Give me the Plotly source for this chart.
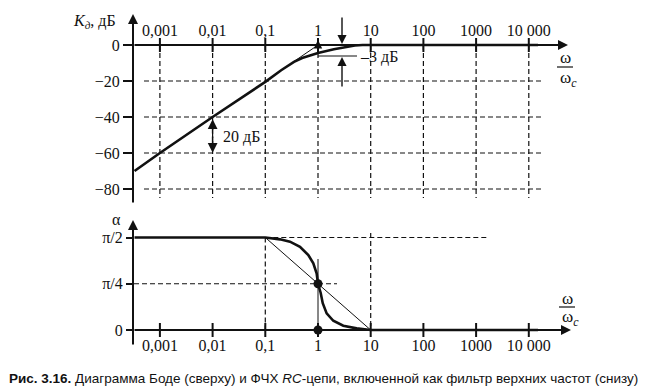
import plotly.graph_objects as go

# ---------------- data ----------------
decades = [0.001, 0.01, 0.1, 1, 10, 100, 1000, 10000]
decade_labels = ["0,001", "0,01", "0,1", "1", "10", "100", "1000", "10 000"]

mag_omega = [0.00033, 0.001, 0.01, 0.1, 0.2, 0.35, 0.5, 0.7, 1, 2, 3.2, 5, 7, 10, 100, 1000, 10000, 15000]
mag_db = [-70, -60, -40, -20.5, -14, -9.4, -7.2, -5.8, -4.5, -2.4, -1.3, -0.3, 0, 0, 0, 0, 0, 0]

asym_omega = [0.34, 1]
asym_db = [-9.4, 0]

mag_ticks = [0, -20, -40, -60, -80]
mag_tick_labels = ["0", "\u221220", "\u221240", "\u221260", "\u221280"]
mag_grid = [-20, -40, -60, -80]

# phase in units of pi/2
phase_omega = [0.00033, 0.1, 0.19, 0.294, 0.455, 0.655, 0.815, 0.944, 1, 1.125, 1.23, 1.46, 1.95, 3.02, 5.42, 10, 15000]
phase_frac = [1, 1, 0.98, 0.955, 0.90, 0.81, 0.72, 0.61, 0.5, 0.40, 0.29, 0.18, 0.10, 0.046, 0.018, 0, 0]
phase_asym_omega = [0.1, 10]
phase_asym_frac = [1, 0]
phase_ticks = [1, 0.5, 0]
phase_tick_labels = ["\u03c0/2", "\u03c0/4", "0"]

# ---------------- pixel helpers (layout only) ----------------
WIN_W, WIN_H = 663, 391
OFF = 8                                   # page body margin
W, H = WIN_W - OFF, WIN_H - OFF
X0PX, DEC = 318.0, 52.7                   # window pixel of omega=1, pixels per decade
def lx(px): return (px - X0PX) / DEC
def ty(px): return (45 - px) / 1.8
def by(px): return (330 - px) / 92.5
def PX(px): return (px - OFF) / W
def PY(py): return 1 - (py - OFF) / H

SERIF = "Liberation Serif, DejaVu Serif, serif"
BLACK = "#111111"

fig = go.Figure()

# ---------- top: Bode magnitude ----------
vx, vy = [], []
for d in decades:
    vx += [d, d, None]; vy += [0, ty(198), None]
fig.add_trace(go.Scatter(x=vx, y=vy, mode="lines", line=dict(color=BLACK, width=1.2, dash="5px,3px"),
                         xaxis="x", yaxis="y", hoverinfo="skip"))
hx, hy = [], []
for v in mag_grid:
    hx += [10 ** lx(144), 10 ** lx(543), None]; hy += [v, v, None]
fig.add_trace(go.Scatter(x=hx, y=hy, mode="lines", line=dict(color=BLACK, width=1.2, dash="5px,3px"),
                         xaxis="x", yaxis="y", hoverinfo="skip"))
fig.add_trace(go.Scatter(x=asym_omega, y=asym_db, mode="lines", line=dict(color=BLACK, width=1),
                         xaxis="x", yaxis="y"))
fig.add_trace(go.Scatter(x=mag_omega, y=mag_db, mode="lines", line=dict(color=BLACK, width=2.6),
                         xaxis="x", yaxis="y"))
fig.add_trace(go.Scatter(x=decades, y=[0] * len(decades), mode="markers",
                         marker=dict(symbol="line-ns", size=10, line=dict(color=BLACK, width=2)),
                         xaxis="x", yaxis="y"))
fig.add_trace(go.Scatter(x=[1, 10 ** lx(357)], y=[ty(56), ty(56)], mode="lines",
                         line=dict(color=BLACK, width=1.2), xaxis="x", yaxis="y"))

# ---------- bottom: phase ----------
dx = [0.1, 10 ** lx(488), None, 10 ** lx(134), 10 ** lx(337), None, 0.1, 0.1, None, 10, 10]
dy = [1, 1, None, 0.5, 0.5, None, 1, 0, None, by(233), 0]
fig.add_trace(go.Scatter(x=dx, y=dy, mode="lines", line=dict(color=BLACK, width=1.2, dash="5px,3px"),
                         xaxis="x2", yaxis="y2"))
fig.add_trace(go.Scatter(x=[1, 1], y=[by(259), 0], mode="lines", line=dict(color=BLACK, width=1),
                         xaxis="x2", yaxis="y2"))
fig.add_trace(go.Scatter(x=phase_asym_omega, y=phase_asym_frac, mode="lines", line=dict(color=BLACK, width=1),
                         xaxis="x2", yaxis="y2"))
fig.add_trace(go.Scatter(x=phase_omega, y=phase_frac, mode="lines", line=dict(color=BLACK, width=2.6),
                         xaxis="x2", yaxis="y2"))
fig.add_trace(go.Scatter(x=decades, y=[0] * len(decades), mode="markers",
                         marker=dict(symbol="line-ns", size=10, line=dict(color=BLACK, width=2)),
                         xaxis="x2", yaxis="y2"))
fig.add_trace(go.Scatter(x=[1, 1], y=[0.5, 0], mode="markers", marker=dict(color=BLACK, size=9),
                         xaxis="x2", yaxis="y2"))

xr = [lx(133), lx(570)]
xdom = [PX(133), PX(570)]
common_x = dict(type="log", range=xr, domain=xdom, showgrid=False, zeroline=False, showline=False,
                tickvals=decades, ticktext=decade_labels, ticks="", tickfont=dict(family=SERIF, size=16, color=BLACK))

fig.update_layout(
    width=W, height=H, margin=dict(l=0, r=0, t=0, b=0),
    paper_bgcolor="white", plot_bgcolor="rgba(0,0,0,0)", showlegend=False,
    font=dict(family=SERIF, color=BLACK),
    xaxis=dict(**common_x, anchor="free", position=PY(45), side="top", ticklabelstandoff=6),
    yaxis=dict(domain=[PY(204), PY(14)], range=[ty(204), ty(14)], showgrid=False, zeroline=False,
               showline=False, tickvals=mag_ticks, ticktext=mag_tick_labels, ticks="outside",
               ticklen=9, tickwidth=2, tickcolor=BLACK, tickfont=dict(family=SERIF, size=16, color=BLACK)),
    xaxis2=dict(**common_x, anchor="free", position=PY(330), side="bottom", ticklabelstandoff=4),
    yaxis2=dict(domain=[PY(350), PY(218)], range=[by(350), by(218)], showgrid=False, zeroline=False,
                showline=False, tickvals=phase_ticks, ticktext=phase_tick_labels, ticks="outside",
                ticklen=6, tickwidth=2, tickcolor=BLACK, tickfont=dict(family=SERIF, size=16, color=BLACK)),
)

def arrow(x, y, ax, ay, xref, yref, width=2, size=1.0):
    fig.add_annotation(x=x, y=y, ax=ax, ay=ay, xref=xref, yref=yref, axref=xref, ayref=yref,
                       text="", showarrow=True, arrowhead=2, arrowwidth=width, arrowsize=size,
                       arrowcolor=BLACK, standoff=0)

# axes with arrows
arrow(lx(568), 0, lx(133), 0, "x", "y")
arrow(lx(133), ty(14), lx(133), ty(204), "x", "y")
arrow(lx(571), 0, lx(133), 0, "x2", "y2")
arrow(lx(133), by(220), lx(133), by(346), "x2", "y2")

# 20 dB double arrow
arrow(-2, -41.2, -2, -50, "x", "y", width=1.5, size=1.3)
arrow(-2, -59.8, -2, -50, "x", "y", width=1.5, size=1.3)
# -3 dB arrows
arrow(lx(342), ty(44), lx(342), ty(16), "x", "y", width=1.4, size=1.3)
arrow(lx(342), ty(57), lx(342), ty(88), "x", "y", width=1.4, size=1.3)
# small arrow at omega = 1
arrow(0, ty(40), 0, ty(50), "x", "y", width=1.4, size=1.2)

def text(s, px, py, size=16, xanchor="center", family=SERIF):
    fig.add_annotation(x=PX(px), y=PY(py), xref="paper", yref="paper", text=s, showarrow=False,
                       xanchor=xanchor, yanchor="middle", borderpad=0,
                       font=dict(family=family, size=size, color=BLACK))

text("<i>K</i><sub><i>\u0434</i></sub>, \u0434\u0411", 94, 21)
text("\u03b1", 116, 219, size=16)
text("20 \u0434\u0411", 222, 137, xanchor="left")
text("\u20133 \u0434\u0411", 359, 57, xanchor="left")
text("\u03c9", 565, 58, size=17)
text("\u03c9<sub><i>c</i></sub>", 568, 79, size=17)
text("\u03c9", 567, 298, size=17)
text("\u03c9<sub><i>c</i></sub>", 570, 318, size=17)
fig.add_shape(type="line", xref="paper", yref="paper", x0=PX(557), x1=PX(573), y0=PY(67), y1=PY(67),
              line=dict(color=BLACK, width=1.2))
fig.add_shape(type="line", xref="paper", yref="paper", x0=PX(559), x1=PX(575), y0=PY(307), y1=PY(307),
              line=dict(color=BLACK, width=1.2))

text("<b>\u0420\u0438\u0441. 3.16.</b> \u0414\u0438\u0430\u0433\u0440\u0430\u043c\u043c\u0430 \u0411\u043e\u0434\u0435 (\u0441\u0432\u0435\u0440\u0445\u0443) \u0438 \u0424\u0427\u0425 <i>RC</i>-\u0446\u0435\u043f\u0438, \u0432\u043a\u043b\u044e\u0447\u0435\u043d\u043d\u043e\u0439 \u043a\u0430\u043a \u0444\u0438\u043b\u044c\u0442\u0440 \u0432\u0435\u0440\u0445\u043d\u0438\u0445 \u0447\u0430\u0441\u0442\u043e\u0442 (\u0441\u043d\u0438\u0437\u0443)",
     8, 378, size=13.5, xanchor="left", family="Liberation Sans")

fig.write_html("out.html")
